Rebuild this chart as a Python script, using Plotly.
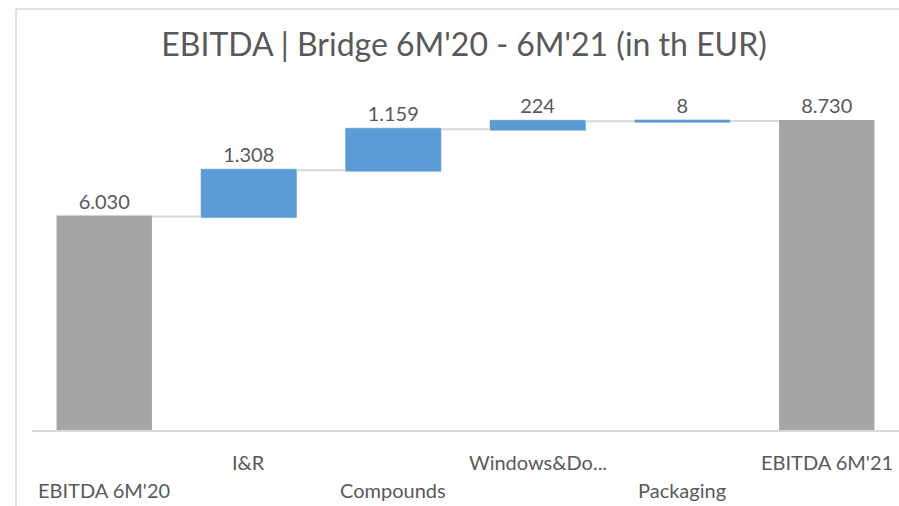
import plotly.graph_objects as go

categories = ["EBITDA 6M'20", "I&R", "Compounds", "Windows&Do...", "Packaging", "EBITDA 6M'21"]
values = [6030, 1308, 1159, 224, 8, 8730]
measures = ["absolute", "relative", "relative", "relative", "relative", "absolute"]
label_rows = [1, 0, 1, 0, 1, 0]  # 0 = upper row, 1 = lower row

title_text = "EBITDA | Bridge 6M'20 - 6M'21 (in th EUR)"

FONT = "Lato"
GRAY_TXT = "#595959"
BLUE = "#5B9BD5"
GRAY_BAR = "#A5A5A5"
LINE = "#D9D9D9"

W, H = 899, 506
ML, MR, MT, MB = 32, 0, 76, 76

text_labels = [f"{v:,}".replace(",", ".") for v in values]

fig = go.Figure(go.Waterfall(
    x=categories,
    y=values,
    measure=measures,
    text=text_labels,
    textposition="outside",
    textfont=dict(family=FONT, size=20, color=GRAY_TXT),
    increasing=dict(marker=dict(color=BLUE, line=dict(color=BLUE, width=0.6))),
    decreasing=dict(marker=dict(color=BLUE)),
    totals=dict(marker=dict(color=GRAY_BAR)),
    connector=dict(line=dict(color=LINE, width=2)),
    cliponaxis=False,
    hoverinfo="skip",
))

annotations = []
for cat, row in zip(categories, label_rows):
    annotations.append(dict(
        x=cat, xref="x", y=0, yref="paper",
        text=cat, showarrow=False,
        yanchor="middle", xanchor="center",
        yshift=-32 if row == 0 else -60,
        font=dict(family=FONT, size=20, color=GRAY_TXT),
    ))

plot_w = W - ML - MR
plot_h = H - MT - MB
px2x = lambda px: (px - ML) / plot_w
py2y = lambda py: (H - MB - py) / plot_h

shapes = [
    dict(type="line", xref="paper", yref="paper",
         x0=px2x(16), x1=px2x(16), y0=py2y(9), y1=py2y(H + 5),
         line=dict(color=LINE, width=1.5)),
    dict(type="line", xref="paper", yref="paper",
         x0=px2x(16), x1=px2x(W + 5), y0=py2y(9), y1=py2y(9),
         line=dict(color=LINE, width=1.5)),
]

fig.update_layout(
    width=W, height=H,
    margin=dict(l=ML, r=MR, t=MT, b=MB, pad=0),
    paper_bgcolor="white", plot_bgcolor="white",
    title=dict(text=title_text, x=464 / W, xref="container", xanchor="center",
               y=1 - 45 / H, yref="container", yanchor="middle",
               font=dict(family=FONT, size=32, color=GRAY_TXT)),
    xaxis=dict(showticklabels=False, showgrid=False, zeroline=False,
               showline=True, linecolor=LINE, linewidth=1.5, ticks=""),
    yaxis=dict(range=[0, 10000], visible=False, showgrid=False, zeroline=False),
    waterfallgap=0.34,
    showlegend=False,
    annotations=annotations,
    shapes=shapes,
)

fig.write_html(
    "out.html",
    config={"displayModeBar": False, "staticPlot": True},
    post_script="document.body.style.margin='0';document.body.style.overflow='hidden';",
)
